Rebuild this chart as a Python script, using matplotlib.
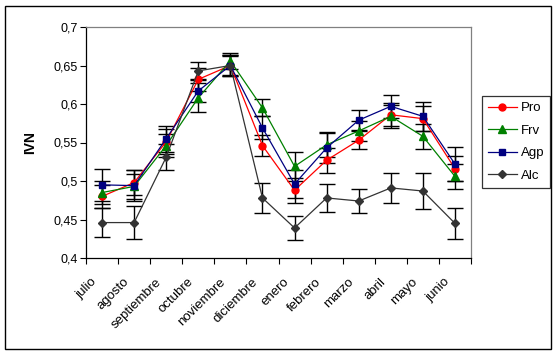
import matplotlib
matplotlib.use("Agg")
import matplotlib.pyplot as plt
from matplotlib.ticker import FixedLocator, FuncFormatter, NullFormatter
from matplotlib.patches import Rectangle
from matplotlib.transforms import ScaledTranslation

plt.rcParams['font.family'] = ['Liberation Sans', 'DejaVu Sans']

months = ["julio", "agosto", "septiembre", "octubre", "noviembre", "diciembre",
          "enero", "febrero", "marzo", "abril", "mayo", "junio"]

pro = [0.480, 0.498, 0.551, 0.632, 0.650, 0.546, 0.488, 0.527, 0.553, 0.586, 0.581, 0.516]
frv = [0.485, 0.493, 0.546, 0.608, 0.656, 0.595, 0.519, 0.547, 0.565, 0.584, 0.558, 0.506]
agp = [0.495, 0.494, 0.555, 0.617, 0.650, 0.569, 0.496, 0.543, 0.579, 0.597, 0.584, 0.522]
alc = [0.446, 0.446, 0.531, 0.643, 0.650, 0.478, 0.439, 0.478, 0.474, 0.491, 0.487, 0.445]

pro_err = [0.015, 0.016, 0.016, 0.015, 0.012, 0.014, 0.016, 0.016, 0.012, 0.015, 0.016, 0.016]
frv_err = [0.015, 0.016, 0.015, 0.019, 0.010, 0.011, 0.019, 0.016, 0.013, 0.015, 0.016, 0.016]
agp_err = [0.021, 0.020, 0.017, 0.015, 0.013, 0.015, 0.018, 0.019, 0.013, 0.015, 0.019, 0.022]
alc_err = [0.019, 0.021, 0.017, 0.012, 0.013, 0.019, 0.016, 0.018, 0.015, 0.019, 0.023, 0.020]

series = [
    ("Pro", pro, pro_err, "#FF0000", "o", 5.0),
    ("Frv", frv, frv_err, "#008000", "^", 5.5),
    ("Agp", agp, agp_err, "#000080", "s", 5.0),
    ("Alc", alc, alc_err, "#333333", "D", 4.0),
]

W, H = 557, 355
fig = plt.figure(figsize=(W / 100, H / 100), dpi=100)
fig.patch.set_facecolor("white")
ax = fig.add_axes([86 / W, 1 - 258 / H, (471 - 86) / W, (258 - 27) / H])

x = list(range(len(months)))
handles = []
for name, vals, errs, col, mk, ms in series:
    ax.errorbar(x, vals, yerr=errs, fmt="none", ecolor="black", elinewidth=1.0,
                capsize=5.5, capthick=1.0, zorder=2)
for name, vals, errs, col, mk, ms in series:
    h, = ax.plot(x, vals, color=col, marker=mk, markersize=ms, linewidth=0.9,
                 markeredgecolor=col, markerfacecolor=col, zorder=3, label=name)
    handles.append(h)

ax.set_xlim(-0.5, len(months) - 0.5)
ax.set_ylim(0.4, 0.7)
ax.xaxis.set_major_locator(FixedLocator([i - 0.5 for i in range(len(months) + 1)]))
ax.xaxis.set_major_formatter(NullFormatter())
ax.xaxis.set_minor_locator(FixedLocator(x))
ax.set_xticklabels(months, minor=True, rotation=45, ha="right", va="center",
                   rotation_mode="anchor", fontsize=9.5)
ax.tick_params(axis="x", which="minor", length=0, pad=16)
ax.tick_params(axis="x", which="major", length=4, width=0.8, direction="out")
off = ScaledTranslation(-7 / 100, 0, fig.dpi_scale_trans)
for lbl in ax.get_xticklabels(minor=True):
    lbl.set_transform(lbl.get_transform() + off)

yt = [0.4, 0.45, 0.5, 0.55, 0.6, 0.65, 0.7]
ax.yaxis.set_major_locator(FixedLocator(yt))
ax.yaxis.set_major_formatter(FuncFormatter(lambda v, p: ("%g" % round(v, 2)).replace(".", ",")))
ax.tick_params(axis="y", length=4, width=0.8, direction="out", labelsize=9, pad=2)

for s in ["left", "bottom"]:
    ax.spines[s].set_color("black")
    ax.spines[s].set_linewidth(0.9)
for s in ["top", "right"]:
    ax.spines[s].set_color("#808080")
    ax.spines[s].set_linewidth(0.9)

ax.set_ylabel("IVN", fontsize=10, fontweight="bold", labelpad=12)

leg = fig.legend(handles=handles, loc="upper left",
                 bbox_to_anchor=(482 / W, 1 - 96 / H), fontsize=9.5,
                 frameon=True, fancybox=False, edgecolor="black",
                 handlelength=2.2, handletextpad=0.3, labelspacing=0.78,
                 borderpad=0.45, borderaxespad=0)
leg.get_frame().set_linewidth(0.9)

fig.patches.append(Rectangle((5 / W, 1 - 349 / H), (551 - 5) / W, (349 - 6) / H,
                             transform=fig.transFigure, fill=False,
                             edgecolor="black", linewidth=1.0))

fig.savefig("out.png", dpi=100)
